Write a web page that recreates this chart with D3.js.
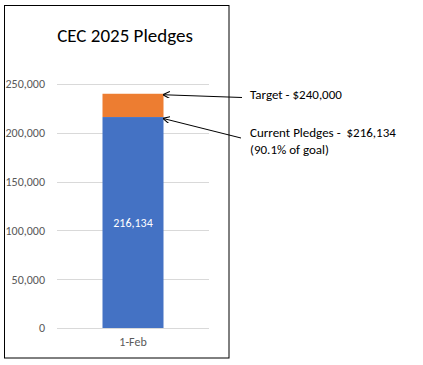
<!DOCTYPE html>
<html><head><meta charset="utf-8">
<script src="https://cdn.jsdelivr.net/npm/d3@7"></script>
<style>body{margin:0;background:#fff}svg{display:block}</style>
</head><body>
<script>
const title = "CEC 2025 Pledges";
const categories = ["1-Feb"];
const currentPledges = [216134];
const target = [240000];
const yTicks = [0, 50000, 100000, 150000, 200000, 250000];
const annotTarget = "Target - $240,000";
const annotCurrent = ["Current Pledges -  $216,134", "(90.1% of goal)"];

const W = 423, H = 365;
const svg = d3.select("body").append("svg").attr("width", W).attr("height", H);
const font = "Calibri, Carlito, 'Open Sans', sans-serif";

svg.append("defs").append("marker").attr("id","ah").attr("viewBox","0 0 10 10")
  .attr("refX",9).attr("refY",5).attr("markerWidth",7).attr("markerHeight",7)
  .attr("orient","auto").attr("markerUnits","userSpaceOnUse")
  .append("path").attr("d","M10,5 L0,0 M10,5 L0,10").attr("stroke","#000").attr("stroke-width",1.6).attr("fill","none");

// frame
svg.append("rect").attr("x",4.5).attr("y",5.5).attr("width",224.5).attr("height",352.5)
  .attr("fill","none").attr("stroke","#000").attr("stroke-width",1);

const x = d3.scaleBand().domain(categories).range([57,209]).paddingInner(0.6).paddingOuter(0.3);
const y = d3.scaleLinear().domain([0,250000]).range([328,84]);

// gridlines
svg.append("g").selectAll("line").data(yTicks).join("line")
  .attr("x1",57).attr("x2",209).attr("y1",d=>Math.round(y(d))+0.5).attr("y2",d=>Math.round(y(d))+0.5)
  .attr("stroke","#d9d9d9").attr("stroke-width",1);

// y axis labels
const yAxis = d3.axisLeft(y).tickValues(yTicks).tickSize(0).tickPadding(0).tickFormat(d3.format(","));
const ga = svg.append("g").attr("transform","translate(45,0)").call(yAxis);
ga.select(".domain").remove();
ga.selectAll("text").attr("font-family",font).attr("font-size","12px").attr("fill","#595959");

// x axis
const xAxis = d3.axisBottom(x).tickSize(0).tickPadding(0);
const gx = svg.append("g").attr("transform","translate(0,337)").call(xAxis);
gx.select(".domain").remove();
gx.selectAll("text").attr("font-family",font).attr("font-size","12px").attr("fill","#595959");

// bars
const bw = 61;
categories.forEach((c,i)=>{
  const cx = x(c) + x.bandwidth()/2;
  svg.append("rect").attr("x",cx-bw/2).attr("width",bw)
    .attr("y",y(target[i])).attr("height",y(currentPledges[i])-y(target[i])).attr("fill","#ed7d31");
  svg.append("rect").attr("x",cx-bw/2).attr("width",bw)
    .attr("y",y(currentPledges[i])).attr("height",y(0)-y(currentPledges[i])).attr("fill","#4472c4");
  svg.append("text").attr("x",cx).attr("y",(y(currentPledges[i])+y(0))/2+4)
    .attr("text-anchor","middle").attr("font-family",font).attr("font-size","12px").attr("fill","#fff")
    .text(d3.format(",")(currentPledges[i]));
});

// title
svg.append("text").attr("x",125).attr("y",42).attr("text-anchor","middle")
  .attr("font-family",font).attr("font-size","19px").attr("fill","#000").text(title);

// annotations
const barRight = x(categories[0]) + x.bandwidth()/2 + bw/2;
svg.append("line").attr("x1",242).attr("y1",97.5).attr("x2",barRight).attr("y2",y(target[0])+1)
  .attr("stroke","#000").attr("stroke-width",1).attr("marker-end","url(#ah)");
svg.append("line").attr("x1",241).attr("y1",138).attr("x2",barRight).attr("y2",y(currentPledges[0])+1.5)
  .attr("stroke","#000").attr("stroke-width",1).attr("marker-end","url(#ah)");

svg.append("text").attr("x",250).attr("y",99).attr("font-family",font).attr("font-size","13px").attr("fill","#000").text(annotTarget);
svg.append("text").attr("x",250).attr("y",137).attr("font-family",font).attr("font-size","13px").attr("fill","#000").attr("xml:space","preserve").style("white-space","pre").text(annotCurrent[0]);
svg.append("text").attr("x",250).attr("y",154).attr("font-family",font).attr("font-size","13px").attr("fill","#000").text(annotCurrent[1]);
</script>
</body></html>
